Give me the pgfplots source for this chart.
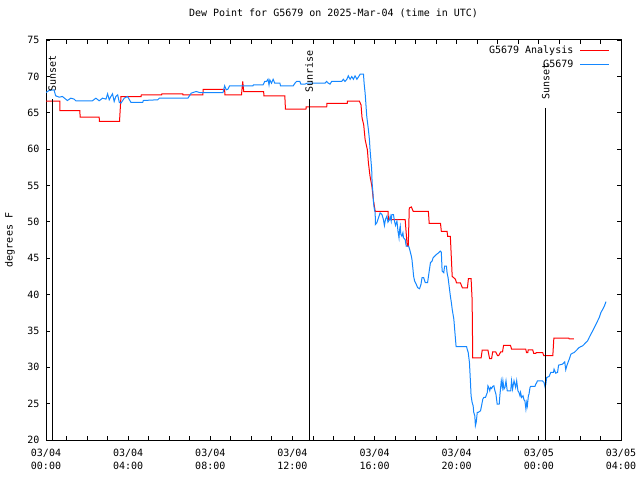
\documentclass[border=0pt]{standalone}
\usepackage{fontspec}
\setmainfont{DejaVu Sans Mono}
\usepackage{pgfplots}
\pgfplotsset{compat=1.18}
\definecolor{anared}{RGB}{255,0,0}
\definecolor{obsblue}{RGB}{20,135,255}
\begin{document}
\fontsize{10bp}{12.5bp}\selectfont
\begin{tikzpicture}
\path[use as bounding box] (-46bp,-40bp) rectangle (594bp,440bp);
\begin{axis}[
  at={(0,0)}, anchor=south west,
  scale only axis, width=575bp, height=400bp,
  xmin=0, xmax=28, ymin=20, ymax=75,
  xtick={0,4,...,28},
  xticklabels={{03/04\\00:00},{03/04\\04:00},{03/04\\08:00},{03/04\\12:00},{03/04\\16:00},{03/04\\20:00},{03/05\\00:00},{03/05\\04:00}},
  minor x tick num=3,
  ytick={20,25,...,75},
  tick align=inside, tick pos=both,
  major tick length=4bp, minor tick length=4bp,
  tick style={black, line width=0.8bp},
  axis line style={line width=1bp},
  xticklabel style={align=center, inner sep=0pt, yshift=-9bp, font=\fontsize{10bp}{12.5bp}\selectfont},
  yticklabel style={inner sep=0pt, xshift=-6.5bp},
  /pgf/number format/assume math mode=true,
  title={Dew Point for G5679 on 2025-Mar-04 (time in UTC)},
  title style={at={(axis description cs:0.5,1.0525)}, anchor=center, inner sep=0pt},
  ylabel={degrees F},
  ylabel style={at={(axis description cs:-0.0626,0.5)}, anchor=center, inner sep=0pt},
  legend plot pos=right,
  legend cell align=right,
  legend image code/.code={\draw[#1] (0bp,0bp) -- (28.3bp,0bp);},
  legend style={draw=none, fill=none, at={(axis description cs:0.9797,0.9855)}, anchor=north east,
    row sep=4.6bp, column sep=6.5bp, inner sep=0pt,
    nodes={inner sep=0pt, text height=8bp, text depth=1bp}},
]
\addplot[anared, line width=1bp] coordinates {
(0,66.6) (0.67,66.6) (0.68,65.3) (1.65,65.3) (1.66,64.4) (2.59,64.4) (2.6,63.8) (3.58,63.8) (3.65,67.2) (4.63,67.2) (4.64,67.46) (5.63,67.46) (5.64,67.6) (6.66,67.6) (6.67,67.46) (7.64,67.46) (7.65,68.2) (8.70,68.2) (8.71,67.46) (9.52,67.46) (9.58,69.3) (9.63,67.9) (10.60,67.9) (10.61,67.3) (11.63,67.3) (11.66,65.5) (12.66,65.5) (12.67,65.8) (13.67,65.8) (13.68,66.3) (14.67,66.3) (14.68,66.6) (15.26,66.6) (15.34,66.09) (15.39,64.3) (15.47,63.35) (15.54,61.3) (15.65,59.9) (15.70,58.1) (15.78,56.25) (15.87,54.9) (15.94,53.06) (16.03,51.45) (16.66,51.45) (16.67,50.3) (17.49,50.3) (17.59,46.65) (17.64,46.65) (17.69,51.9) (17.79,52.05) (17.88,51.45) (18.62,51.45) (18.66,49.8) (19.21,49.8) (19.25,48.7) (19.53,48.7) (19.56,48.0) (19.69,48.0) (19.78,42.5) (19.94,42.1) (19.99,41.6) (20.18,41.6) (20.28,40.9) (20.52,40.9) (20.57,42.2) (20.70,42.2) (20.75,39.3) (20.78,31.3) (21.19,31.3) (21.24,32.35) (21.52,32.35) (21.6,31.2) (21.7,31.2) (21.75,32.1) (21.9,32.1) (21.99,31.6) (22.04,31.6) (22.14,32.1) (22.23,32.1) (22.28,33.0) (22.62,33.0) (22.67,32.5) (23.36,32.5) (23.40,32.0) (23.46,32.0) (23.48,32.4) (23.7,32.4) (23.75,31.9) (23.85,31.9) (23.87,32.0) (24.19,32.0) (24.24,31.6) (24.68,31.6) (24.73,34.0) (25.46,34.0) (25.48,33.9) (25.7,33.9)
};
\addlegendentry{G5679 Analysis}
\addplot[obsblue, line width=1bp] coordinates {
(0,67.78) (0.15,68.06) (0.39,68.15) (0.47,67.33) (0.64,67.14) (0.80,67.23) (1.04,66.68) (1.21,67.0) (1.37,66.87) (1.45,66.64) (2.26,66.64) (2.43,67.0) (2.59,66.64) (2.75,67.0) (2.92,66.87) (3.00,67.6) (3.08,66.78) (3.16,67.23) (3.24,67.6) (3.32,66.55) (3.40,67.23) (3.49,67.46) (3.57,66.41) (3.65,66.32) (3.81,67.0) (3.97,67.23) (4.14,66.41) (4.71,66.41) (4.74,66.68) (5.44,66.78) (5.52,67.0) (6.91,67.0) (7.07,67.69) (7.31,67.92) (7.48,67.78) (8.62,67.78) (8.70,68.7) (8.78,68.15) (8.86,68.24) (8.94,68.7) (10.08,68.7) (10.10,68.83) (10.57,68.83) (10.65,69.3) (10.74,69.3) (10.81,69.6) (10.86,68.83) (10.90,69.5) (10.98,69.06) (11.06,69.6) (11.14,69.06) (11.39,69.06) (11.42,68.7) (12.04,68.7) (12.12,69.06) (12.20,69.3) (12.36,69.3) (12.41,68.93) (12.61,68.93) (12.72,69.06) (13.58,69.06) (13.67,69.3) (13.75,69.06) (13.83,68.93) (13.91,69.3) (14.40,69.3) (14.48,69.6) (14.56,69.3) (14.65,69.6) (14.72,70.07) (14.81,69.6) (14.89,69.97) (14.97,69.6) (15.05,70.07) (15.14,69.6) (15.21,69.9) (15.30,70.3) (15.46,70.3) (15.49,69.06) (15.54,67.69) (15.62,64.49) (15.70,62.66) (15.75,61.29) (15.78,59.9) (15.82,58.55) (15.86,57.17) (15.88,55.35) (15.92,53.98) (15.95,52.6) (15.98,51.92) (16.03,51.23) (16.04,49.63) (16.11,49.86) (16.19,50.55) (16.27,51.23) (16.36,51.0) (16.43,50.32) (16.48,49.49) (16.53,50.32) (16.60,50.77) (16.65,49.95) (16.73,50.32) (16.76,50.77) (16.81,50.09) (16.84,51.0) (16.92,51.0) (16.97,50.09) (17.02,49.49) (17.09,50.09) (17.14,48.71) (17.19,47.8) (17.22,48.94) (17.25,49.4) (17.28,48.26) (17.33,48.03) (17.38,48.49) (17.41,47.8) (17.49,47.57) (17.54,46.65) (17.66,46.65) (17.71,46.2) (17.79,45.28) (17.82,44.83) (17.87,43.46) (17.90,42.54) (17.95,41.85) (18.03,41.4) (18.10,40.94) (18.19,40.8) (18.26,41.4) (18.31,42.31) (18.39,42.31) (18.47,41.63) (18.58,41.63) (18.65,43.0) (18.72,44.37) (18.80,44.6) (18.85,45.06) (18.93,45.28) (19.01,45.51) (19.12,45.74) (19.20,45.97) (19.25,45.83) (19.29,43.23) (19.37,43.0) (19.41,43.91) (19.50,43.91) (19.53,43.0) (19.58,42.31) (19.63,41.17) (19.69,39.8) (19.74,38.89) (19.78,37.97) (19.86,36.6) (19.94,33.85) (19.97,32.85) (20.48,32.85) (20.51,32.48) (20.56,32.03) (20.62,30.66) (20.67,27.91) (20.70,26.08) (20.75,25.17) (20.80,24.71) (20.83,23.8) (20.88,23.33) (20.91,21.96) (20.95,22.42) (21.0,23.8) (21.05,23.8) (21.16,24.02) (21.21,24.71) (21.27,25.62) (21.32,25.85) (21.40,25.85) (21.49,26.54) (21.52,27.45) (21.56,27.23) (21.61,26.77) (21.65,27.23) (21.70,27.09) (21.75,27.36) (21.81,27.45) (21.86,26.77) (21.91,26.31) (21.97,24.94) (22.07,24.94) (22.10,26.08) (22.17,28.14) (22.22,27.23) (22.25,28.14) (22.30,27.0) (22.35,27.23) (22.40,28.14) (22.46,26.77) (22.63,26.77) (22.67,28.14) (22.72,27.0) (22.79,28.14) (22.87,27.23) (22.92,28.14) (22.98,26.77) (23.03,26.54) (23.08,26.08) (23.11,26.54) (23.16,25.85) (23.23,26.08) (23.28,25.49) (23.32,25.4) (23.37,24.25) (23.41,25.17) (23.44,24.71) (23.49,26.08) (23.52,26.31) (23.57,27.23) (23.60,27.36) (23.81,27.36) (23.85,27.68) (23.90,27.91) (23.93,28.14) (24.17,28.14) (24.25,27.91) (24.30,27.31) (24.34,27.68) (24.38,28.6) (24.50,28.74) (24.58,29.29) (24.71,29.29) (24.74,29.74) (24.82,29.19) (24.91,29.29) (24.96,30.29) (25.15,30.43) (25.20,30.56) (25.26,30.74) (25.31,29.65) (25.36,30.2) (25.43,30.74) (25.48,31.11) (25.56,31.8) (25.64,31.93) (25.72,32.03) (25.80,32.25) (25.88,32.48) (25.96,32.71) (26.05,32.85) (26.13,32.94) (26.21,33.17) (26.29,33.4) (26.37,33.62) (26.45,34.09) (26.53,34.54) (26.62,34.99) (26.70,35.46) (26.78,35.91) (26.86,36.37) (26.94,36.83) (27.02,37.52) (27.11,37.97) (27.19,38.42) (27.27,39.03)
};
\addlegendentry{G5679}
\addplot[black, line width=1bp, forget plot] coordinates {(0.3,66.85) (0.3,20)};
\addplot[black, line width=1bp, forget plot] coordinates {(12.82,66.85) (12.82,20)};
\addplot[black, line width=1bp, forget plot] coordinates {(24.33,65.65) (24.33,20)};
\node[rotate=90, anchor=west, inner sep=0pt] at (axis cs:0.3,67.85) {Sunset};
\node[rotate=90, anchor=west, inner sep=0pt] at (axis cs:12.82,67.75) {Sunrise};
\node[rotate=90, anchor=west, inner sep=0pt] at (axis cs:24.33,66.75) {Sunset};
\end{axis}
\end{tikzpicture}
\end{document}
